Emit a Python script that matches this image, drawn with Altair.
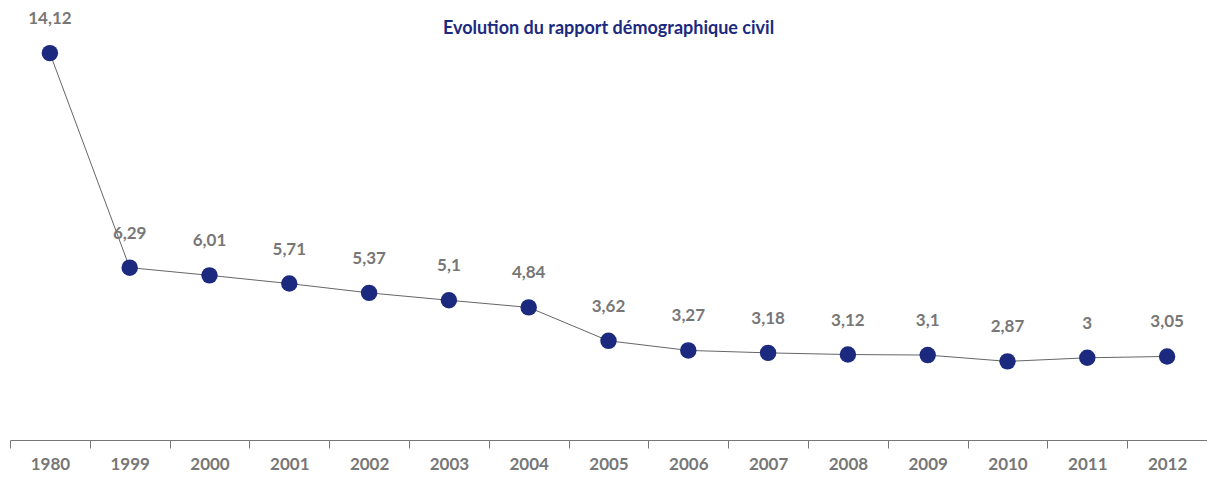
import altair as alt
import pandas as pd

years = ["1980", "1999", "2000", "2001", "2002", "2003", "2004", "2005",
         "2006", "2007", "2008", "2009", "2010", "2011", "2012"]
ratios = [14.12, 6.29, 6.01, 5.71, 5.37, 5.1, 4.84, 3.62,
          3.27, 3.18, 3.12, 3.1, 2.87, 3, 3.05]

df = pd.DataFrame({"annee": years, "rapport": ratios})

FONT = "Lato"
GREY = "#777777"
NAVY = "#1b2a7f"

x = alt.X("annee:N", sort=years, title=None,
          scale=alt.Scale(paddingInner=0, paddingOuter=0),
          axis=alt.Axis(labelAngle=0, tickBand="extent", tickSize=8,
                        domainColor=GREY, tickColor=GREY, labelColor=GREY,
                        labelFont=FONT, labelFontSize=17, labelFontWeight="bold",
                        labelPadding=8, domainWidth=1, tickWidth=1))
y = alt.Y("rapport:Q", title=None,
          scale=alt.Scale(domain=[0, 14.6], nice=False, zero=True),
          axis=None)

base = alt.Chart(df).encode(x=x, y=y)

line = base.mark_line(color="#666666", strokeWidth=1)
pts = base.mark_circle(size=270, color=NAVY, opacity=1)
labels = base.transform_calculate(
    lab="replace(toString(datum.rapport), '.', ',')"
).mark_text(dy=-34, font=FONT, fontSize=17, fontWeight="bold",
            color=GREY).encode(text="lab:N")

chart = alt.layer(line, pts, labels).properties(
    width=1197, height=400,
    title=alt.Title("Evolution du rapport démographique civil",
                    anchor="middle", frame="group", font=FONT, fontSize=18,
                    fontWeight="bold", color=NAVY, orient="top", offset=-28),
    autosize=alt.AutoSizeParams(type="none"),
    padding={"left": 2, "top": 32, "right": 0, "bottom": 38},
).configure_view(stroke=None)

chart.save("out.html", embed_options={"renderer": "svg", "actions": False})
